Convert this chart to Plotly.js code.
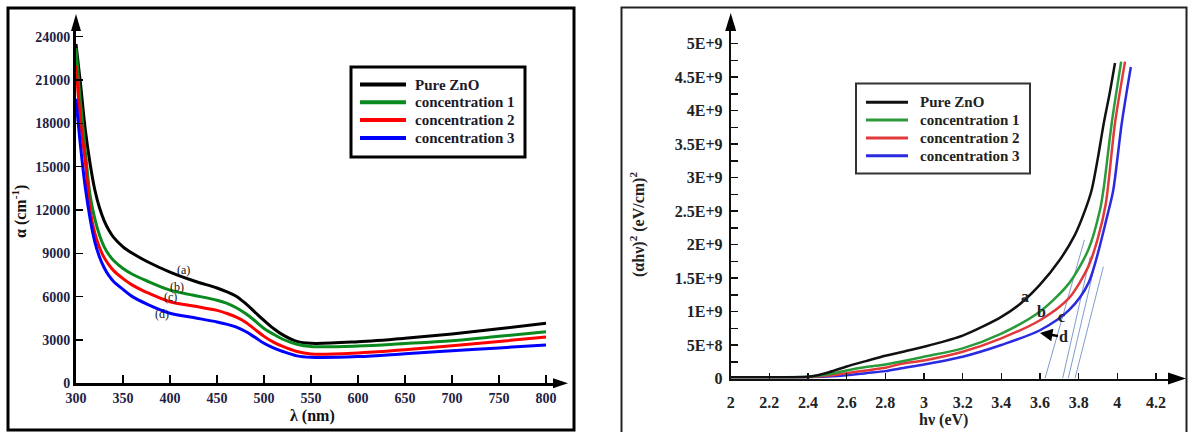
<!DOCTYPE html>
<html>
<head>
<meta charset="utf-8">
<script src="https://cdn.plot.ly/plotly-3.0.1.min.js"></script>
<style>html,body{margin:0;padding:0;background:#fff;}#chart{width:1190px;height:432px;}</style>
</head>
<body>
<div id="chart"></div>
<script>
// ---------- Left chart: absorption coefficient vs wavelength ----------
const wavelength = [300,305,310,315,320,325,330,335,340,350,360,375,400,425,450,460,470,480,490,500,510,520,535,550,600,650,700,750,800];
const alphaPure  = [23500,20600,17500,15200,13400,12150,11250,10600,10100,9450,9000,8450,7700,7100,6600,6350,6050,5550,4950,4350,3800,3350,2900,2770,2880,3120,3420,3780,4150];
const alphaC1    = [23200,19300,16000,13000,11400,10250,9450,8900,8500,7950,7550,7100,6450,6100,5750,5550,5250,4850,4350,3800,3400,3050,2700,2550,2580,2750,2950,3250,3570];
const alphaC2    = [22000,18000,15300,12000,10400,9400,8700,8200,7800,7250,6800,6300,5650,5350,5050,4850,4600,4250,3750,3250,2850,2550,2200,2030,2100,2330,2600,2900,3200];
const alphaC3    = [19700,16300,13500,11400,9800,8750,8000,7450,7050,6500,6000,5500,4850,4550,4250,4100,3900,3600,3200,2770,2450,2200,1900,1800,1850,2050,2260,2450,2650];
const leftXTicks = [300,350,400,450,500,550,600,650,700,750,800];
const leftYTicks = [0,3000,6000,9000,12000,15000,18000,21000,24000];
const leftLabels = ['(a)','(b)','(c)','(d)'];
const leftLabelX = [414,407,400,392];
const leftLabelY = [7850,6700,5980,4780];

// ---------- Right chart: Tauc plot ----------
const hvPure = [2.0,2.2,2.4,2.45,2.5,2.6,2.7,2.8,2.93,3.0,3.1,3.2,3.3,3.4,3.5,3.6,3.7,3.78,3.833,3.867,3.9,3.93,3.96,3.988];
const tPure  = [2e7,2e7,2.7e7,5e7,8.5e7,1.8e8,2.6e8,3.4e8,4.25e8,4.75e8,5.5e8,6.4e8,7.7e8,9.2e8,1.12e9,1.4e9,1.76e9,2.14e9,2.51e9,2.81e9,3.3e9,3.81e9,4.25e9,4.71e9];
const hvC1   = [2.0,2.2,2.4,2.5,2.6,2.7,2.8,2.876,3.0,3.2,3.4,3.6,3.75,3.85,3.91,3.93,3.971,4.02];
const tC1    = [2e7,2e7,2.5e7,6e7,1.2e8,1.7e8,2.1e8,2.5e8,3.25e8,4.5e8,6.7e8,1.0e9,1.42e9,1.92e9,2.51e9,2.85e9,3.81e9,4.73e9];
const hvC2   = [2.0,2.2,2.4,2.5,2.6,2.7,2.8,2.876,3.0,3.2,3.4,3.6,3.75,3.85,3.9,3.94,3.988,4.04];
const tC2    = [2e7,2e7,2e7,4e7,8e7,1.2e8,1.6e8,2.16e8,2.7e8,4.0e8,6.0e8,8.7e8,1.2e9,1.67e9,2.1e9,2.6e9,3.81e9,4.73e9];
const hvC3   = [2.0,2.2,2.4,2.5,2.6,2.7,2.8,2.876,3.0,3.2,3.4,3.6,3.75,3.85,3.95,3.979,4.023,4.07];
const tC3    = [2e7,2e7,2e7,3e7,5e7,8e7,1.1e8,1.5e8,2.1e8,3.25e8,5.0e8,7.2e8,1.02e9,1.42e9,2.45e9,2.81e9,3.81e9,4.65e9];
// extrapolated tangent lines: [x-intercept, upper x], [0, upper y]
const tangentX = [[3.626,3.83],[3.717,3.86],[3.746,3.894],[3.781,3.928]];
const tangentY = [[0,2.07e9],[0,1.82e9],[0,1.82e9],[0,1.67e9]];
const rightXTicks = [2,2.2,2.4,2.6,2.8,3,3.2,3.4,3.6,3.8,4,4.2];
const rightXText  = ['2','2.2','2.4','2.6','2.8','3','3.2','3.4','3.6','3.8','4','4.2'];
const rightYTicks = [0,5e8,1e9,1.5e9,2e9,2.5e9,3e9,3.5e9,4e9,4.5e9,5e9];
const rightYText  = ['0','5E+8','1E+9','1.5E+9','2E+9','2.5E+9','3E+9','3.5E+9','4E+9','4.5E+9','5E+9'];
const rightLabels = ['a','b','c'];
const rightLabelX = [3.523,3.609,3.71];
const rightLabelY = [1.22e9,1.0e9,9.2e8];

const seriesNames = ['Pure ZnO','concentration 1','concentration 2','concentration 3'];
const leftColors  = ['#000000','#0a8a1e','#ff0000','#0000ff'];
const rightColors = ['#111111','#2a9a3a','#e23a3a','#2a2ae0'];

// ---------- geometry (pixels -> paper) ----------
const W = 1190, H = 432;
const fx = p => p / W, fy = p => 1 - p / H;
const LP = {x0:76, x1:556, y0:383.3, y1:28, xs:0.94, ys:43.33/3000};
const RP = {x0:730.7, x1:1170, y0:378.5, y1:30, xs:193.3, ys:33.5/5e8};
// legend boxes (pixels)
const LL = {x0:351, x1:525, y0:67, y1:157, lx0:360, lx1:406, tx:413, row0:84.5, dy:17.8, lw:4, bw:3, bc:'#000'};
const RL = {x0:856, x1:1030, y0:83.5, y1:173.5, lx0:866, lx1:908, tx:918, row0:102.3, dy:17.8, lw:3, bw:2, bc:'#333'};

const serif = 'Liberation Serif';
const bold = (size, color) => ({family:serif, size:size, color:color, weight:'bold'});
const traces = [];
const leftY = [alphaPure, alphaC1, alphaC2, alphaC3];
leftY.forEach((ys, i) => traces.push({
  x: wavelength, y: ys, xaxis:'x', yaxis:'y', type:'scatter', mode:'lines',
  name: seriesNames[i], showlegend:false,
  line:{color:leftColors[i], width:3, shape:'spline', smoothing:1}
}));
const rx = [hvPure, hvC1, hvC2, hvC3], ry = [tPure, tC1, tC2, tC3];
for (let k = 0; k < 4; k++) {
  traces.push({x: tangentX[k], y: tangentY[k], xaxis:'x2', yaxis:'y2', type:'scatter', mode:'lines',
    showlegend:false, hoverinfo:'skip', line:{color:'#7f9ccc', width:1}});
}
for (let i = 3; i >= 0; i--) {
  traces.push({
    x: rx[i], y: ry[i], xaxis:'x2', yaxis:'y2', type:'scatter', mode:'lines',
    name: seriesNames[i], showlegend:false,
    line:{color:rightColors[i], width:2.5, shape:'spline', smoothing:0.8}
  });
}

function arrowUp(x, yTip, half, len) {
  return {type:'path', xref:'paper', yref:'paper', fillcolor:'#000', line:{width:0},
    path:`M ${fx(x)} ${fy(yTip)} L ${fx(x-half)} ${fy(yTip+len)} L ${fx(x+half)} ${fy(yTip+len)} Z`};
}
function arrowRight(xTip, y, half, len) {
  return {type:'path', xref:'paper', yref:'paper', fillcolor:'#000', line:{width:0},
    path:`M ${fx(xTip)} ${fy(y)} L ${fx(xTip-len)} ${fy(y-half)} L ${fx(xTip-len)} ${fy(y+half)} Z`};
}
function legendParts(G, colors, textColor) {
  const shapes = [{type:'rect', xref:'paper', yref:'paper', x0:fx(G.x0), x1:fx(G.x1), y0:fy(G.y1), y1:fy(G.y0),
    fillcolor:'#fff', line:{color:G.bc, width:G.bw}}];
  const annos = [];
  seriesNames.forEach((n, i) => {
    const y = G.row0 + i * G.dy;
    shapes.push({type:'line', xref:'paper', yref:'paper', x0:fx(G.lx0), x1:fx(G.lx1), y0:fy(y), y1:fy(y),
      line:{color:colors[i], width:G.lw}});
    annos.push({xref:'paper', yref:'paper', x:fx(G.tx), y:fy(y), xanchor:'left', yanchor:'middle',
      text:n, showarrow:false, font:bold(15, textColor)});
  });
  return {shapes, annos};
}
const legL = legendParts(LL, leftColors, '#1a1a2a');
const legR = legendParts(RL, rightColors, '#222');

const layout = {
  width: W, height: H, margin:{l:0,r:0,t:0,b:0},
  paper_bgcolor:'#fff', plot_bgcolor:'rgba(0,0,0,0)', showlegend:false,
  font:{family: serif, color:'#000'},
  xaxis:{domain:[fx(LP.x0), fx(LP.x1)], range:[300, 300 + (LP.x1-LP.x0)/LP.xs], anchor:'y',
    showgrid:false, zeroline:false, showline:true, linewidth:3, linecolor:'#000',
    ticks:'inside', ticklen:8, tickwidth:2, tickcolor:'#000',
    tickvals: leftXTicks, ticktext: leftXTicks.map(String),
    tickfont: bold(14, '#1e1e44')},
  yaxis:{domain:[fy(LP.y0), fy(LP.y1)], range:[0, (LP.y0-LP.y1)/LP.ys], anchor:'x',
    showgrid:false, zeroline:false, showline:true, linewidth:3, linecolor:'#000',
    ticks:'inside', ticklen:7, tickwidth:1.5, tickcolor:'#000',
    tickvals: leftYTicks, ticktext: leftYTicks.map(String),
    tickfont: bold(14, '#1e1e44')},
  xaxis2:{domain:[fx(RP.x0), fx(RP.x1)], range:[2, 2 + (RP.x1-RP.x0)/RP.xs], anchor:'y2',
    showgrid:false, zeroline:false, showline:true, linewidth:2, linecolor:'#111',
    ticks:'inside', ticklen:6, tickwidth:1.5, tickcolor:'#111', ticklabelstandoff:8,
    tickvals: rightXTicks, ticktext: rightXText,
    tickfont: bold(16, '#222')},
  yaxis2:{domain:[fy(RP.y0), fy(RP.y1)], range:[0, (RP.y0-RP.y1)/RP.ys], anchor:'x2',
    showgrid:false, zeroline:false, showline:true, linewidth:2, linecolor:'#111',
    ticks:'inside', ticklen:7, tickwidth:1.5, tickcolor:'#111', ticklabelstandoff:3,
    tickvals: rightYTicks, ticktext: rightYText,
    minor:{dtick:2.5e8, ticks:'inside', ticklen:7, tickwidth:1.5, tickcolor:'#111'},
    tickfont: bold(16, '#222')},
  shapes:[
    {type:'rect', xref:'paper', yref:'paper', x0:fx(8), x1:fx(574), y0:fy(430), y1:fy(8), line:{color:'#000', width:3}},
    {type:'rect', xref:'paper', yref:'paper', x0:fx(621.5), x1:fx(1186.5), y0:fy(445), y1:fy(7.5), line:{color:'#222', width:2}},
    arrowUp(LP.x0, 14, 5, 17),
    arrowRight(568, LP.y0, 5, 15),
    arrowUp(RP.x0, 13, 5.5, 18),
    arrowRight(1186, RP.y0, 6, 18),
    ...legL.shapes, ...legR.shapes
  ],
  annotations:[
    {xref:'paper', yref:'paper', x:fx(20), y:fy(212), xanchor:'center', yanchor:'middle',
      text:'α (cm<sup>-1</sup>)', textangle:-90, showarrow:false, font: bold(16, '#111')},
    {xref:'paper', yref:'paper', x:fx(312), y:fy(416), xanchor:'center', yanchor:'middle',
      text:'λ (nm)', showarrow:false, font: bold(16, '#111')},
    {xref:'paper', yref:'paper', x:fx(637), y:fy(225), xanchor:'center', yanchor:'middle',
      text:'(αhν)<sup>2</sup> (eV/cm)<sup>2</sup>', textangle:-90, showarrow:false, font: bold(16, '#222')},
    {xref:'paper', yref:'paper', x:fx(943), y:fy(420), xanchor:'center', yanchor:'middle',
      text:'hν (eV)', showarrow:false, font: bold(16, '#222')},
    ...leftLabels.map((t, i) => ({xref:'x', yref:'y', x:leftLabelX[i], y:leftLabelY[i], text:t, showarrow:false,
      font:{family:serif, size:12, color:'#111'}})),
    ...rightLabels.map((t, i) => ({xref:'x2', yref:'y2', x:rightLabelX[i], y:rightLabelY[i], text:t, showarrow:false,
      font: bold(16, '#222')})),
    {xref:'x2', yref:'y2', x:3.6, y:6.8e8, text:'d', showarrow:true, ax:24, ay:4,
      arrowhead:2, arrowsize:1, arrowwidth:2.5, arrowcolor:'#000', standoff:0,
      font: bold(16, '#222')},
    ...legL.annos, ...legR.annos
  ]
};

Plotly.newPlot('chart', traces, layout, {displayModeBar:false, staticPlot:true});
</script>
</body>
</html>
